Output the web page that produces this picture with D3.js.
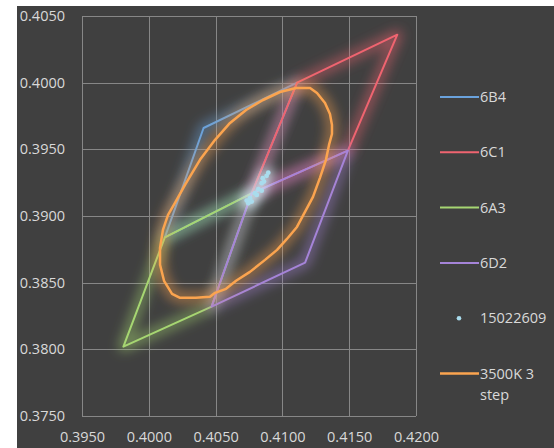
<!DOCTYPE html>
<html>
<head>
<meta charset="utf-8">
<script src="https://cdn.jsdelivr.net/npm/d3@7"></script>
<style>
  body { margin: 0; background: #fff; }
  svg { display: block; }
  .axis text { font-family: "Open Sans", sans-serif; font-size: 14.5px; fill: #d9d9d9; }
  .legend text { font-family: "Open Sans", sans-serif; font-size: 14.5px; fill: #d9d9d9; }
</style>
</head>
<body>
<script>
// tick values
const xTicks = [0.3950, 0.4000, 0.4050, 0.4100, 0.4150, 0.4200];
const yTicks = [0.3750, 0.3800, 0.3850, 0.3900, 0.3950, 0.4000, 0.4050];

// quadrangle bins (x, y chromaticity)
const bin6B4 = [[0.4077, 0.3917], [0.4012, 0.3884], [0.4041, 0.3966], [0.4111, 0.4000]];
const bin6C1 = [[0.4077, 0.3917], [0.4111, 0.4000], [0.4186, 0.4036], [0.4149, 0.3949]];
const bin6A3 = [[0.4077, 0.3917], [0.4012, 0.3884], [0.3981, 0.3802], [0.4047, 0.3832]];
const bin6D2 = [[0.4077, 0.3917], [0.4047, 0.3832], [0.4117, 0.3865], [0.4149, 0.3949]];

// measured points 15022609
const measured = [
  [0.40894, 0.39325], [0.40882, 0.39301], [0.40853, 0.39283], [0.40862, 0.39258],
  [0.40845, 0.39246], [0.40820, 0.39201], [0.40845, 0.39190], [0.40795, 0.39171],
  [0.40808, 0.39158], [0.40757, 0.39133], [0.40733, 0.39116], [0.40770, 0.39108],
  [0.40745, 0.39096]
];

// 3500K 3 step ellipse
const ellipse3500 = [
  [0.40234, 0.38386], [0.40174, 0.38416], [0.40114, 0.38514], [0.40084, 0.38634],
  [0.40084, 0.38761], [0.40106, 0.38896], [0.40144, 0.39008], [0.40196, 0.39098],
  [0.40271, 0.39233], [0.40383, 0.39421], [0.40496, 0.39571], [0.40608, 0.39698],
  [0.40728, 0.39795], [0.40855, 0.39870], [0.40982, 0.39930], [0.41102, 0.39960],
  [0.41207, 0.39960], [0.41259, 0.39923], [0.41319, 0.39848], [0.41356, 0.39765],
  [0.41371, 0.39683], [0.41371, 0.39615], [0.41349, 0.39533], [0.41326, 0.39421],
  [0.41281, 0.39286], [0.41229, 0.39143], [0.41169, 0.39031], [0.41109, 0.38918],
  [0.41034, 0.38828], [0.40960, 0.38746], [0.40870, 0.38671], [0.40757, 0.38581],
  [0.40653, 0.38514], [0.40578, 0.38454], [0.40496, 0.38424], [0.40458, 0.38394],
  [0.40353, 0.38386]
];

const lineSeries = [
  {key: '6B4', color: '#6aa2dc', pts: bin6B4},
  {key: '6C1', color: '#ef6470', pts: bin6C1},
  {key: '6A3', color: '#a6d672', pts: bin6A3},
  {key: '6D2', color: '#a584d8', pts: bin6D2}
];
const dotColor = '#a9dced';
const ellipseColor = '#fba44f';

const W = 554, H = 448;
const mLeft = 82, mRight = 416, mTop = 16, mBottom = 416;

const svg = d3.select('body').append('svg')
    .attr('width', W)
    .attr('height', H);

const defs = svg.append('defs');
defs.append('filter')
    .attr('id', 'glow')
    .attr('filterUnits', 'userSpaceOnUse')
    .attr('x', 0).attr('y', 0).attr('width', W).attr('height', H)
  .append('feGaussianBlur')
    .attr('stdDeviation', 6);

svg.append('rect')
    .attr('x', 17).attr('y', 6)
    .attr('width', W - 17).attr('height', H - 6)
    .attr('fill', '#404040');

const x = d3.scaleLinear().domain([0.395, 0.420]).range([mLeft, mRight]);
const y = d3.scaleLinear().domain([0.375, 0.405]).range([mBottom, mTop]);

// grid
const grid = svg.append('g').attr('stroke', '#878787').attr('stroke-width', 1);
grid.selectAll('.gx').data(xTicks).enter().append('line')
    .attr('x1', d => Math.round(x(d)) + 0.5).attr('x2', d => Math.round(x(d)) + 0.5)
    .attr('y1', mTop).attr('y2', mBottom);
grid.selectAll('.gy').data(yTicks).enter().append('line')
    .attr('y1', d => Math.round(y(d)) + 0.5).attr('y2', d => Math.round(y(d)) + 0.5)
    .attr('x1', mLeft).attr('x2', mRight);

// axes
const fmt = d3.format('.4f');
svg.append('g')
    .attr('class', 'axis')
    .attr('transform', 'translate(' + mLeft + ',0)')
    .call(d3.axisLeft(y).tickValues(yTicks).tickFormat(fmt).tickSize(0).tickPadding(17))
    .call(g => g.select('.domain').remove());
svg.append('g')
    .attr('class', 'axis')
    .attr('transform', 'translate(0,' + mBottom + ')')
    .call(d3.axisBottom(x).tickValues(xTicks).tickFormat(fmt).tickSize(0).tickPadding(16))
    .call(g => g.select('.domain').remove());

const line = d3.line()
    .x(d => x(d[0]))
    .y(d => y(d[1]))
    .curve(d3.curveLinearClosed);

const plot = svg.append('g');

function drawShape(pts, color, width) {
  plot.append('path')
      .attr('d', line(pts))
      .attr('fill', 'none')
      .attr('stroke', color)
      .attr('stroke-width', width + 8)
      .attr('stroke-opacity', 0.5)
      .attr('stroke-linejoin', 'round')
      .attr('filter', 'url(#glow)');
  plot.append('path')
      .attr('d', line(pts))
      .attr('fill', 'none')
      .attr('stroke', color)
      .attr('stroke-width', width)
      .attr('stroke-linejoin', 'round');
}

lineSeries.forEach(s => drawShape(s.pts, s.color, 2));

// measured dots
plot.append('g')
    .attr('filter', 'url(#glow)')
    .selectAll('circle').data(measured).enter().append('circle')
    .attr('cx', d => x(d[0])).attr('cy', d => y(d[1]))
    .attr('r', 6)
    .attr('fill', '#d8f2fa')
    .attr('fill-opacity', 0.55);
plot.append('g')
    .selectAll('circle').data(measured).enter().append('circle')
    .attr('cx', d => x(d[0])).attr('cy', d => y(d[1]))
    .attr('r', 2.4)
    .attr('fill', dotColor);

drawShape(ellipse3500, ellipseColor, 2.5);

// legend
const legendItems = lineSeries.map(s => ({key: s.key, color: s.color, type: 'line'}))
    .concat([{key: '15022609', color: dotColor, type: 'dot'},
             {key: '3500K 3|step', color: ellipseColor, type: 'line'}]);

const legend = svg.append('g').attr('class', 'legend');
legendItems.forEach((d, i) => {
  const cy = 97 + i * 55.3;
  const g = legend.append('g').attr('transform', 'translate(0,' + cy + ')');
  if (d.type === 'line') {
    g.append('line')
        .attr('x1', 440).attr('x2', 479)
        .attr('y1', 0).attr('y2', 0)
        .attr('stroke', d.color)
        .attr('stroke-width', i === 5 ? 2.5 : 2);
  } else {
    g.append('circle').attr('cx', 459).attr('cy', 0).attr('r', 2.3).attr('fill', d.color);
  }
  const parts = d.key.split('|');
  const t = g.append('text').attr('x', 480).attr('y', 0);
  parts.forEach((p, j) => {
    t.append('tspan').attr('x', 480).attr('dy', j === 0 ? '0.35em' : '1.45em').text(p);
  });
});
</script>
</body>
</html>
